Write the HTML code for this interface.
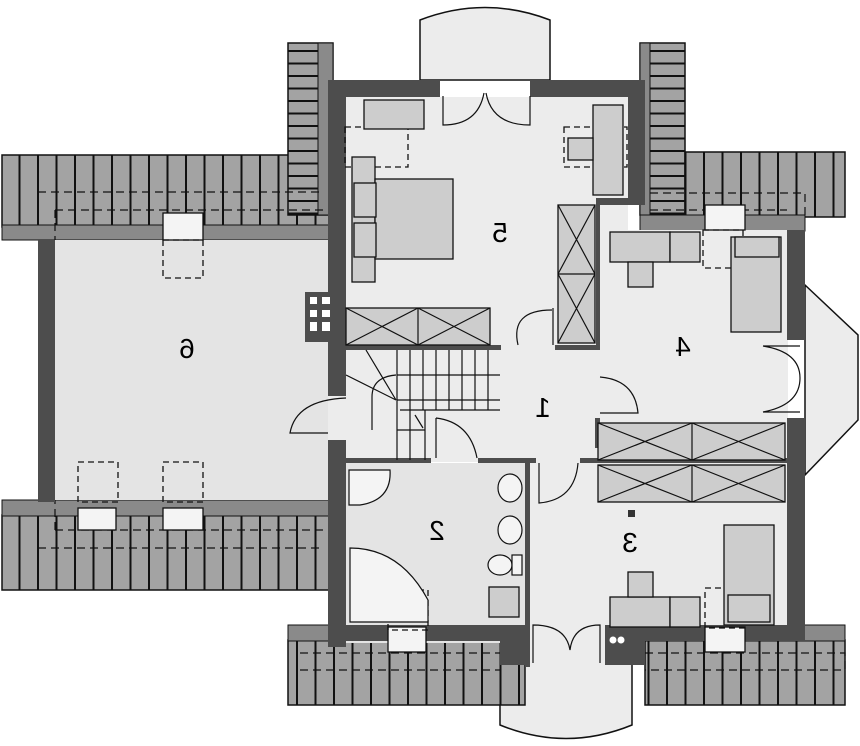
<!DOCTYPE html>
<html><head><meta charset="utf-8"><style>
html,body{margin:0;padding:0;background:#fff}
svg{display:block}
text{font-family:"Liberation Sans",sans-serif;font-size:28px;fill:#000}
</style></head><body>
<svg width="860" height="746" viewBox="0 0 860 746" xmlns="http://www.w3.org/2000/svg">
<defs>
<pattern id="vt" width="18.5" height="10" patternUnits="userSpaceOnUse"><rect width="18.5" height="10" fill="#a3a3a3"/><rect x="0" width="2" height="10" fill="#111"/></pattern>
<pattern id="ht" width="10" height="12.5" patternUnits="userSpaceOnUse"><rect width="10" height="12.5" fill="#a3a3a3"/><rect y="0" width="10" height="2" fill="#111"/></pattern>
</defs>
<rect width="860" height="746" fill="#fff"/>
<!-- bays -->
<path d="M420,80 V20 Q485,-5 550,20 V80 Z" fill="#ececec" stroke="#111" stroke-width="1.5"/>
<path d="M500,660 V725 Q566,752 632,725 V660 Z" fill="#ececec" stroke="#111" stroke-width="1.5"/>
<path d="M805,285 L858,335 V420 L805,475 Z" fill="#ececec" stroke="#111" stroke-width="1.5"/>
<!-- roofs -->
<rect x="2" y="155" width="330" height="72" fill="url(#vt)" stroke="#111" stroke-width="1.5"/>
<rect x="2" y="225" width="330" height="15" fill="#8a8a8a" stroke="#111"/>
<rect x="2" y="515" width="330" height="75" fill="url(#vt)" stroke="#111" stroke-width="1.5"/>
<rect x="2" y="500" width="330" height="16" fill="#8a8a8a" stroke="#111"/>
<rect x="288" y="43" width="45" height="172" fill="url(#ht)" stroke="#111" stroke-width="1.5"/>
<rect x="318" y="43" width="15" height="172" fill="#8a8a8a" stroke="#111"/>
<rect x="640" y="43" width="45" height="172" fill="url(#ht)" stroke="#111" stroke-width="1.5"/>
<rect x="640" y="43" width="10" height="172" fill="#8a8a8a" stroke="#111"/>
<rect x="685" y="152" width="160" height="65" fill="url(#vt)" stroke="#111" stroke-width="1.5"/>
<rect x="640" y="215" width="165" height="16" fill="#8a8a8a" stroke="#111"/>
<rect x="288" y="640" width="237" height="65" fill="url(#vt)" stroke="#111" stroke-width="1.5"/>
<rect x="288" y="625" width="237" height="16" fill="#8a8a8a" stroke="#111"/>
<rect x="645" y="640" width="200" height="65" fill="url(#vt)" stroke="#111" stroke-width="1.5"/>
<rect x="645" y="625" width="200" height="16" fill="#8a8a8a" stroke="#111"/>
<!-- dashed roof lines -->
<g fill="none" stroke="#111" stroke-width="1.2" stroke-dasharray="8,5">
<path d="M38,192 H320 M55,210 H330 M55,210 V240"/>
<path d="M38,548 H320 M55,530 H330 M55,530 V500"/>
<path d="M650,193 H805 V215 M650,210 H787"/>
<path d="M300,653 H525 M300,670 H500 M645,653 H845 V670 H645"/>
</g>
<!-- floors -->
<rect x="55" y="240" width="275" height="260" fill="#e4e4e4"/>
<rect x="346" y="97" width="282" height="250" fill="#ececec"/>
<rect x="598" y="230" width="190" height="190" fill="#ececec"/>
<rect x="346" y="347" width="250" height="115" fill="#ececec"/>
<rect x="328" y="396" width="18" height="44" fill="#ececec"/>
<rect x="530" y="347" width="258" height="280" fill="#ececec"/>
<rect x="346" y="463" width="180" height="180" fill="#e4e4e4"/>
<rect x="530" y="620" width="75" height="45" fill="#ececec"/>
<!-- walls -->
<g fill="#4d4d4d">
<rect x="38" y="240" width="17" height="262"/>
<rect x="328" y="80" width="18" height="316"/>
<rect x="328" y="440" width="18" height="207"/>
<rect x="328" y="80" width="112" height="17"/>
<rect x="530" y="80" width="115" height="17"/>
<rect x="628" y="80" width="17" height="120"/>
<rect x="596" y="198" width="49" height="7"/>
<rect x="596" y="205" width="4" height="140"/>
<rect x="787" y="230" width="18" height="110"/>
<rect x="787" y="418" width="18" height="210"/>
<rect x="346" y="345" width="155" height="5"/>
<rect x="555" y="345" width="45" height="5"/>
<rect x="346" y="458" width="85" height="5"/>
<rect x="478" y="458" width="58" height="5"/>
<rect x="580" y="458" width="20" height="5"/>
<rect x="595" y="418" width="5" height="30"/>
<rect x="525" y="462" width="5" height="205"/>
<rect x="600" y="458" width="187" height="5"/>
<rect x="500" y="640" width="30" height="25"/>
<rect x="605" y="625" width="40" height="40"/>
<rect x="346" y="625" width="180" height="16"/>
<rect x="645" y="625" width="160" height="16"/>
<rect x="305" y="292" width="35" height="50"/>
</g>
<g fill="#fff"><rect x="310" y="297" width="7" height="7"/><rect x="322" y="297" width="8" height="7"/><rect x="310" y="310" width="7" height="7"/><rect x="322" y="310" width="8" height="7"/><rect x="310" y="322" width="7" height="9"/><rect x="322" y="322" width="8" height="9"/></g>
<circle cx="613" cy="640" r="3.5" fill="#fff"/><circle cx="621" cy="640" r="3.5" fill="#fff"/>
<!-- skylights -->
<g fill="#f4f4f4" stroke="#111" stroke-width="1.3">
<rect x="163" y="213" width="40" height="27"/><rect x="78" y="508" width="38" height="22"/><rect x="163" y="508" width="40" height="22"/>
<rect x="705" y="205" width="40" height="25"/><rect x="388" y="627" width="38" height="25"/><rect x="705" y="627" width="40" height="25"/>
</g>
<g fill="none" stroke="#111" stroke-width="1.3" stroke-dasharray="6,4">
<rect x="163" y="240" width="40" height="38"/><rect x="78" y="462" width="40" height="40"/><rect x="163" y="462" width="40" height="40"/>
<rect x="703" y="230" width="40" height="38"/><rect x="388" y="590" width="40" height="40"/><rect x="705" y="588" width="40" height="40"/>
<rect x="345" y="127" width="63" height="40"/><rect x="564" y="127" width="63" height="40"/>
</g>
<!-- furniture -->
<g fill="#cdcdcd" stroke="#111" stroke-width="1.3">
<rect x="364" y="100" width="60" height="29"/>
<rect x="593" y="105" width="30" height="90"/>
<rect x="568" y="138" width="25" height="22"/>
<rect x="352" y="157" width="23" height="125"/>
<rect x="375" y="179" width="78" height="80"/>
<rect x="354" y="183" width="22" height="34"/><rect x="354" y="223" width="22" height="34"/>
<rect x="558" y="205" width="37" height="138"/>
<rect x="346" y="308" width="144" height="37"/>
<rect x="610" y="232" width="60" height="30"/><rect x="670" y="232" width="30" height="30"/><rect x="628" y="262" width="25" height="25"/>
<rect x="731" y="237" width="50" height="95"/><rect x="735" y="237" width="44" height="20"/>
<rect x="598" y="423" width="187" height="37"/><rect x="598" y="465" width="187" height="37"/>
<rect x="724" y="525" width="50" height="100"/><rect x="728" y="595" width="42" height="27"/>
<rect x="610" y="597" width="60" height="30"/><rect x="670" y="597" width="30" height="30"/><rect x="628" y="572" width="25" height="25"/>
<rect x="489" y="587" width="30" height="30"/>
</g>
<g stroke="#111" stroke-width="1.2" fill="none">
<path d="M558,205 L595,274 M595,205 L558,274 M558,274 L595,343 M595,274 L558,343 M558,274 H595"/>
<path d="M346,308 L418,345 M418,308 L346,345 M418,308 L490,345 M490,308 L418,345 M418,308 V345"/>
<path d="M598,423 L692,460 M692,423 L598,460 M692,423 L785,460 M785,423 L692,460 M692,423 V460"/>
<path d="M598,465 L692,502 M692,465 L598,502 M692,465 L785,502 M785,465 L692,502 M692,465 V502"/>
<path d="M397,350 V460 M410,350 V460 M423,350 V410 M436,350 V410 M449,350 V410 M462,350 V410 M475,350 V410 M488,350 V410 M397,375 H500 M397,400 H500 M400,410 H500 M397,430 H425 M425,410 V460 M366,350 L396,400 M346,375 L396,400 M415,415 L423,428"/>
<path d="M372,430 V397 Q372,377 396,375"/>
<path d="M443,96 V125 Q478,125 484,93 M530,96 V125 Q492,125 486,93"/>
<path d="M518,345 Q510,310 552,310 M553,345 V308"/>
<path d="M600,377 Q635,380 638,413 H600"/>
<path d="M346,398 Q296,400 290,433 H328"/>
<path d="M436,418 Q470,422 477,458 M436,418 V458"/>
<path d="M539,463 V503 Q575,500 578,463"/>
<path d="M533,663 V625 Q566,625 570,650 Q573,625 600,625 V663"/>
<path d="M763,346 Q800,352 800,378 Q800,405 763,412 M763,346 H800 M763,412 H800"/>
<path d="M349,470 H390 Q392,500 360,505 H349 Z" fill="#f4f4f4"/>
<path d="M350,548 Q400,548 428,600 V622 H350 Z" fill="#f4f4f4"/>
<ellipse cx="510" cy="488" rx="12" ry="14" fill="#f4f4f4"/>
<ellipse cx="510" cy="530" rx="12" ry="14" fill="#f4f4f4"/>
<ellipse cx="500" cy="565" rx="12" ry="10" fill="#f4f4f4"/>
<rect x="512" y="555" width="10" height="20" fill="#f4f4f4"/>
</g>
<text x="500" y="242" transform="translate(1000,0) scale(-1,1)" text-anchor="middle">5</text>
<text x="187" y="358" transform="translate(374,0) scale(-1,1)" text-anchor="middle">6</text>
<text x="683" y="356" transform="translate(1366,0) scale(-1,1)" text-anchor="middle">4</text>
<text x="543" y="417" transform="translate(1086,0) scale(-1,1)" text-anchor="middle">1</text>
<text x="437" y="540" transform="translate(874,0) scale(-1,1)" text-anchor="middle">2</text>
<text x="630" y="552" transform="translate(1260,0) scale(-1,1)" text-anchor="middle">3</text>
<rect x="628" y="510" width="7" height="7" fill="#333"/>
</svg>
</body></html>
